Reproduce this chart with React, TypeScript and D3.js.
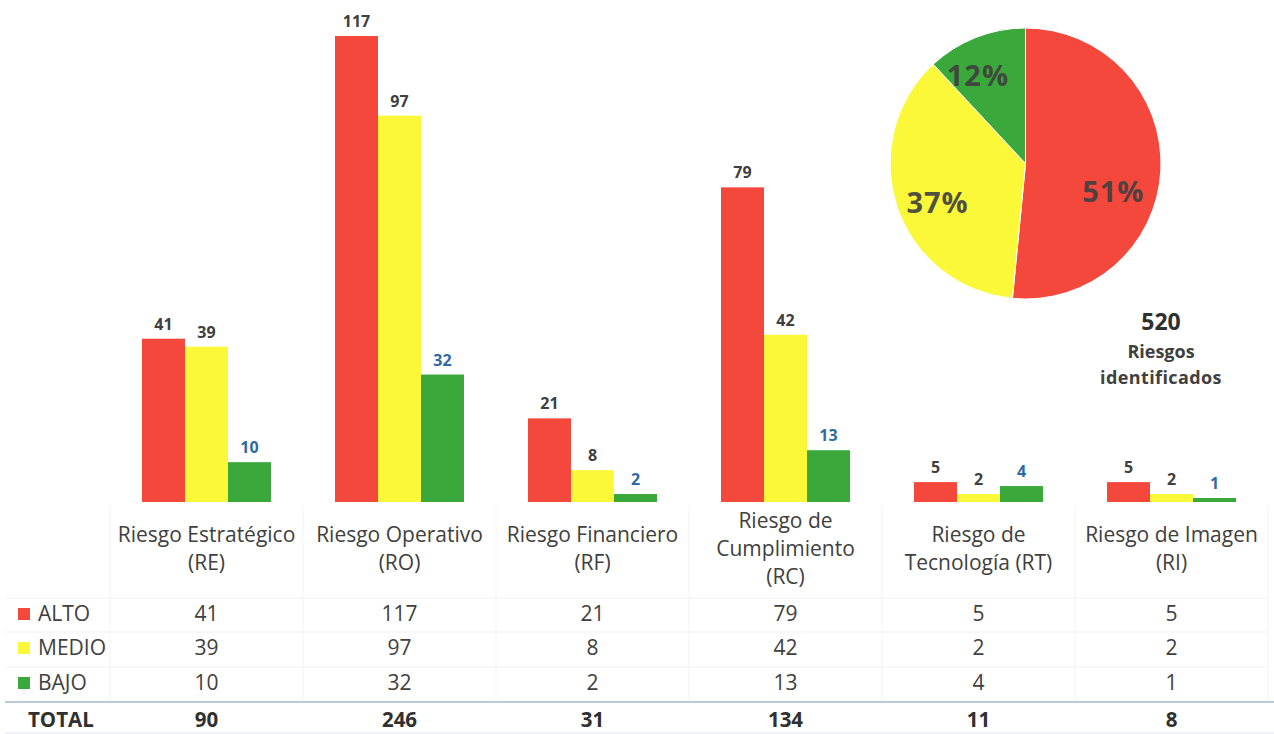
import React from "react";
import * as d3 from "d3";

const categories = [
  ["Riesgo Estratégico", "(RE)"],
  ["Riesgo Operativo", "(RO)"],
  ["Riesgo Financiero", "(RF)"],
  ["Riesgo de", "Cumplimiento", "(RC)"],
  ["Riesgo de", "Tecnología (RT)"],
  ["Riesgo de Imagen", "(RI)"],
];
const levels = ["ALTO", "MEDIO", "BAJO"];
const alto = [41, 117, 21, 79, 5, 5];
const medio = [39, 97, 8, 42, 2, 2];
const bajo = [10, 32, 2, 13, 4, 1];
const pieLabels = ["51%", "37%", "12%"];
const colors = ["#f5483c", "#fbf83a", "#3aa83a"];
const labelColors = ["#404040", "#404040", "#2f6aa6"];

// layout for pie labels: [radius fraction, angular fraction inside slice]
const pieLabelPlacement = [
  [0.68, 0.58],
  [0.71, 0.46],
  [0.74, 0.34],
];

const W = 1274;
const H = 734;
const FONT = "'Open Sans', Lato, sans-serif";

export default function App() {
  const series = [alto, medio, bajo];
  const idx = d3.range(categories.length);
  const x = d3.scaleBand<number>().domain(idx).range([110, 1268]).padding(0);
  const inner = d3
    .scaleBand<number>()
    .domain([0, 1, 2])
    .range([x.bandwidth() / 2 - 64.5, x.bandwidth() / 2 + 64.5])
    .padding(0);
  const baseY = 502;
  const y = d3.scaleLinear().domain([0, 117]).range([baseY, 36]);

  const totals = idx.map((i) => alto[i] + medio[i] + bajo[i]);
  const levelTotals = series.map((s) => d3.sum(s));
  const grand = d3.sum(levelTotals);

  const pie = d3.pie<number>().sort(null).value((d) => d)(levelTotals);
  const pcx = 1025.5, pcy = 163.5, pr = 135.5;
  const arc = d3.arc<d3.PieArcDatum<number>>().innerRadius(0).outerRadius(pr);

  const rowY = [621, 655, 690];

  return (
    <svg
      width={W}
      height={H}
      style={{ position: "absolute", left: 0, top: 0, background: "#fff" }}
      fontFamily={FONT}
    >
      {/* faint table grid */}
      {d3.range(categories.length + 1).map((i) => (
        <line
          key={"v" + i}
          x1={110 + i * x.step()}
          x2={110 + i * x.step()}
          y1={505}
          y2={700}
          stroke="#f3f3f3"
          strokeWidth={1}
        />
      ))}
      {[598, 632, 667].map((yy) => (
        <line key={"h" + yy} x1={5} x2={1268} y1={yy} y2={yy} stroke="#f1f1f1" strokeWidth={1} />
      ))}

      {/* bars */}
      {idx.map((i) => (
        <g key={i} transform={`translate(${x(i)},0)`}>
          {series.map((s, k) => (
            <g key={k}>
              <rect
                x={inner(k)}
                y={y(s[i])}
                width={inner.bandwidth()}
                height={baseY - y(s[i])}
                fill={colors[k]}
              />
              <text
                x={(inner(k) as number) + inner.bandwidth() / 2}
                y={y(s[i]) - 9}
                textAnchor="middle"
                fontWeight="bold"
                fontSize={16}
                fill={labelColors[k]}
              >
                {s[i]}
              </text>
            </g>
          ))}
        </g>
      ))}

      {/* category headers */}
      {idx.map((i) => {
        const lines = categories[i];
        const startY = lines.length === 3 ? 528 : 542;
        return (
          <text
            key={"c" + i}
            x={(x(i) as number) + x.bandwidth() / 2}
            textAnchor="middle"
            fontSize={21}
            fill="#404040"
          >
            {lines.map((l, j) => (
              <tspan key={j} x={(x(i) as number) + x.bandwidth() / 2} y={startY + j * 28}>
                {l}
              </tspan>
            ))}
          </text>
        );
      })}

      {/* table rows */}
      {levels.map((lv, k) => (
        <g key={lv}>
          <rect x={18} y={rowY[k] - 13} width={12} height={12} fill={colors[k]} />
          <text x={38} y={rowY[k]} fontSize={21} fill="#404040">
            {lv}
          </text>
          {idx.map((i) => (
            <text
              key={i}
              x={(x(i) as number) + x.bandwidth() / 2}
              y={rowY[k]}
              textAnchor="middle"
              fontSize={21}
              fill="#404040"
            >
              {series[k][i]}
            </text>
          ))}
        </g>
      ))}

      <line x1={5} x2={1274} y1={702} y2={702} stroke="#b9c9d9" strokeWidth={2} />
      <line x1={5} x2={1274} y1={733} y2={733} stroke="#dde6ee" strokeWidth={1} />

      <text x={28} y={727} fontSize={20.5} fontWeight="bold" fill="#303030">
        TOTAL
      </text>
      {idx.map((i) => (
        <text
          key={"t" + i}
          x={(x(i) as number) + x.bandwidth() / 2}
          y={727}
          textAnchor="middle"
          fontSize={20.5}
          fontWeight="bold"
          fill="#303030"
        >
          {totals[i]}
        </text>
      ))}

      {/* pie */}
      <g transform={`translate(${pcx},${pcy})`}>
        {pie.map((p, k) => (
          <path key={k} d={arc(p) as string} fill={colors[k]} stroke="#fff" strokeWidth={1} />
        ))}
        {pie.map((p, k) => {
          const [rf, af] = pieLabelPlacement[k];
          const a = p.startAngle + (p.endAngle - p.startAngle) * af;
          const lx = Math.sin(a) * pr * rf;
          const ly = -Math.cos(a) * pr * rf;
          return (
            <text
              key={"pl" + k}
              x={lx}
              y={ly}
              dy="0.36em"
              textAnchor="middle"
              fontSize={29}
              fontWeight="bold"
              letterSpacing={1}
              fill="#404040"
              fillOpacity={0.92}
            >
              {pieLabels[k]}
            </text>
          );
        })}
      </g>

      <text x={1161} y={330} textAnchor="middle" fontSize={23} fontWeight="bold" fill="#303030">
        {grand}
      </text>
      <text x={1161} y={358} textAnchor="middle" fontSize={18} fontWeight="bold" fill="#404040">
        Riesgos
      </text>
      <text x={1161} y={384} textAnchor="middle" fontSize={18} fontWeight="bold" fill="#404040" letterSpacing={0.4}>
        identificados
      </text>
    </svg>
  );
}
